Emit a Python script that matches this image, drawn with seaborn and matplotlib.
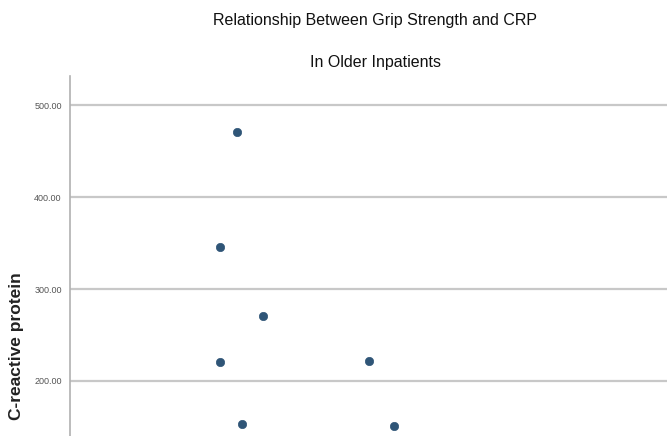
import matplotlib
matplotlib.use("Agg")
import matplotlib.pyplot as plt
import seaborn as sns
import pandas as pd

# Data (x axis not visible; grip strength in kg estimated)
grip_strength = [14.0, 12.6, 16.2, 12.6, 25.0, 14.4, 27.1]
crp = [470.7, 345.7, 270.7, 220.6, 221.7, 153.0, 151.0]
y_ticks = [200, 300, 400, 500]
y_tick_labels = ["200.00", "300.00", "400.00", "500.00"]

df = pd.DataFrame({"Grip strength": grip_strength, "C-reactive protein": crp})

sns.set_style("white")
arial = ["Liberation Sans", "DejaVu Sans"]

W, H = 667, 436
fig = plt.figure(figsize=(W / 100, H / 100), dpi=100)
ax = fig.add_axes([70 / W, 0, (W - 70) / W, (H - 76) / H])

sns.scatterplot(data=df, x="Grip strength", y="C-reactive protein", ax=ax,
                color="#2f5577", s=36, edgecolor="#2f5577", linewidth=0.5, zorder=3)

ax.set_xlim(0, 50)
ax.set_ylim(140, 532)
ax.set_yticks(y_ticks)
ax.set_yticklabels(y_tick_labels, fontfamily=arial, fontsize=6.5, color="#555555")
ax.set_xticks([])
ax.set_xlabel("")
ax.yaxis.grid(True, color="#c8c8c8", linewidth=1.6)
ax.set_axisbelow(True)
ax.tick_params(axis="y", length=0, pad=6)
for s in ["top", "right", "bottom"]:
    ax.spines[s].set_visible(False)
ax.spines["left"].set_color("#b0b0b0")
ax.spines["left"].set_linewidth(1.2)

ax.set_ylabel("C-reactive protein", fontfamily=arial,
              fontsize=12.5, fontweight="bold", color="#222222")
ax.yaxis.set_label_coords(-46 / (W - 70), (436 - 346) / (H - 76))

fig.text(375 / W, 1 - 20 / H, "Relationship Between Grip Strength and CRP",
         ha="center", va="center", fontsize=11.5, family=arial, color="#111111")
fig.text(375 / W, 1 - 62 / H, "In Older Inpatients",
         ha="center", va="center", fontsize=11.5, family=arial, color="#111111")

fig.savefig("out.png", dpi=100, facecolor="white")
